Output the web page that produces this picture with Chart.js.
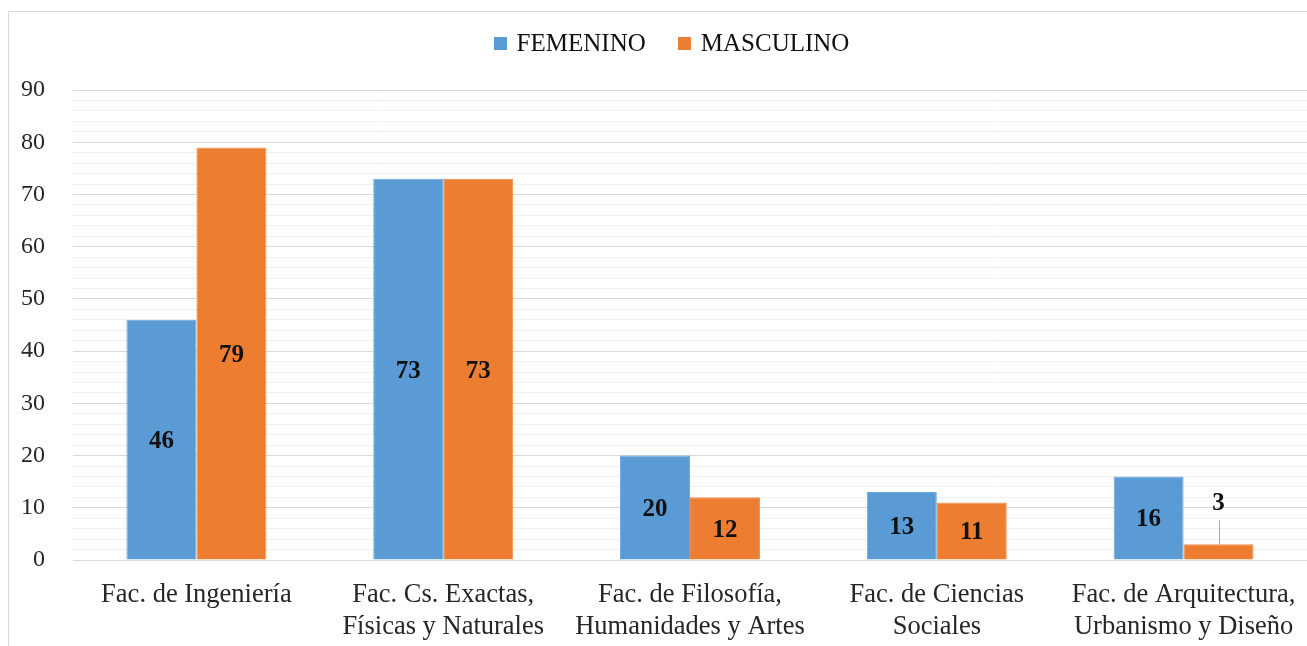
<!DOCTYPE html>
<html>
<head>
<meta charset="utf-8">
<script src="https://cdn.jsdelivr.net/npm/chart.js@4.4.1/dist/chart.umd.min.js"></script>
<style>
  html, body { margin: 0; padding: 0; background: #ffffff; overflow: hidden; }
  #frame { position: absolute; left: 8px; top: 11px; width: 1400px; height: 800px; border: 1px solid #d9d9d9; box-sizing: border-box; }
  #wrap { position: absolute; left: 0; top: 0; width: 1307px; height: 646px; }
</style>
</head>
<body>
<div id="frame"></div>
<div id="wrap"><canvas id="c" width="1307" height="646"></canvas></div>
<script>
const categories = [
  "Fac. de Ingeniería",
  ["Fac. Cs. Exactas,", "Físicas y Naturales"],
  ["Fac. de Filosofía,", "Humanidades y Artes"],
  ["Fac. de Ciencias", "Sociales"],
  ["Fac. de Arquitectura,", "Urbanismo y Diseño"]
];
const femenino = [46, 73, 20, 13, 16];
const masculino = [79, 73, 12, 11, 3];
const seriesNames = ["FEMENINO", "MASCULINO"];
const yTicks = [0, 10, 20, 30, 40, 50, 60, 70, 80, 90];

const BLUE = "#5B9BD5";
const ORANGE = "#ED7D31";
const TEXT = "#262626";
const FONT = "'Liberation Serif', 'Times New Roman', serif";

const labelPlugin = {
  id: "barLabels",
  afterDatasetsDraw(chart) {
    const ctx = chart.ctx;
    ctx.save();
    ctx.font = "bold 25px " + FONT;
    ctx.fillStyle = "#111111";
    ctx.textAlign = "center";
    ctx.textBaseline = "middle";
    chart.data.datasets.forEach((ds, di) => {
      const meta = chart.getDatasetMeta(di);
      meta.data.forEach((bar, i) => {
        const v = ds.data[i];
        const top = bar.y, bottom = bar.base;
        const h = bottom - top;
        if (h >= 30) {
          ctx.fillText(String(v), bar.x, (top + bottom) / 2 + 2);
        } else {
          const ly = top - 41;
          ctx.strokeStyle = "#a6a6a6";
          ctx.lineWidth = 1;
          ctx.beginPath();
          ctx.moveTo(Math.round(bar.x) + 0.5, top);
          ctx.lineTo(Math.round(bar.x) + 0.5, ly + 17);
          ctx.stroke();
          ctx.fillText(String(v), bar.x, ly);
        }
      });
    });
    ctx.restore();
  }
};

const legendPlugin = {
  id: "customLegend",
  afterDraw(chart) {
    const ctx = chart.ctx;
    ctx.save();
    ctx.font = "25px " + FONT;
    ctx.textBaseline = "middle";
    const box = 13, gapBoxText = 10, gapItems = 32;
    const items = chart.data.datasets.map(ds => ({ label: ds.label, color: ds.backgroundColor, w: ctx.measureText(ds.label).width }));
    let total = 0;
    items.forEach((it, i) => { total += box + gapBoxText + it.w + (i < items.length - 1 ? gapItems : 0); });
    const cx = chart.width / 2 + 18;
    const cy = 43;
    let x = cx - total / 2;
    items.forEach(it => {
      ctx.fillStyle = it.color;
      ctx.fillRect(Math.round(x), Math.round(cy - box / 2), box, box);
      x += box + gapBoxText;
      ctx.fillStyle = "#111111";
      ctx.textAlign = "left";
      ctx.fillText(it.label, x, cy + 1);
      x += it.w + gapItems;
    });
    ctx.restore();
  }
};

new Chart(document.getElementById("c"), {
  type: "bar",
  data: {
    labels: categories,
    datasets: [
      { label: seriesNames[0], data: femenino, backgroundColor: BLUE, borderColor: "#6aa6dc", borderWidth: 1 },
      { label: seriesNames[1], data: masculino, backgroundColor: ORANGE, borderColor: "#f08a45", borderWidth: 1 }
    ]
  },
  options: {
    responsive: false,
    animation: false,
    devicePixelRatio: 1,
    layout: { padding: { top: 90, left: 0, right: 0, bottom: 0 } },
    plugins: { legend: { display: false }, tooltip: { enabled: false } },
    datasets: { bar: { categoryPercentage: 0.567, barPercentage: 1.0 } },
    scales: {
      x: {
        grid: { display: false, drawTicks: false },
        border: { display: true, color: "#d9d9d9" },
        ticks: { color: TEXT, font: { family: FONT, size: 26.5, lineHeight: 1.2 }, padding: 19, maxRotation: 0, autoSkip: false },
        afterFit(scale) { scale.height = 86; scale.paddingLeft = 0; scale.paddingRight = 0; }
      },
      y: {
        min: 0, max: 90,
        afterBuildTicks(scale) {
          const t = [];
          for (let v = 0; v <= 90; v += 2) t.push({ value: v });
          scale.ticks = t;
        },
        grid: {
          drawTicks: false,
          color: (c) => (c.tick && yTicks.includes(c.tick.value)) ? "#d9d9d9" : "#f0f0f0",
          lineWidth: 1
        },
        border: { display: false },
        ticks: {
          color: TEXT,
          font: { family: FONT, size: 24 },
          padding: 28,
          autoSkip: false,
          callback: (v) => yTicks.includes(v) ? String(v) : ""
        },
        afterFit(scale) { scale.width = 73; }
      }
    }
  },
  plugins: [labelPlugin, legendPlugin]
});
</script>
</body>
</html>
